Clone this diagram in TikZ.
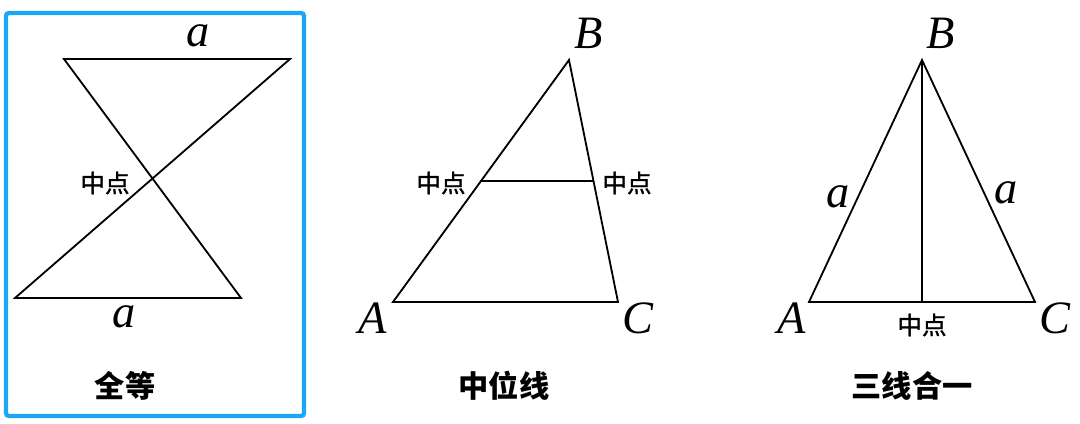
\documentclass[tikz,border=0pt]{standalone}
\usepackage{fontspec}
\setmainfont{Liberation Serif}
\newfontfamily\cjk{Noto Sans CJK SC}
\newfontfamily\cjkmid[FakeBold=1.2]{Noto Sans CJK SC}
\usetikzlibrary{positioning,calc}
\definecolor{frameblue}{RGB}{28,167,245}

\begin{document}
\begin{tikzpicture}[x=0.025cm,y=-0.025cm,line width=1.3pt,
  letter/.style={font=\fontsize{33}{33}\selectfont\itshape},
  mid/.style={font=\cjkmid\fontsize{17.5}{17.5}\selectfont},
  title/.style={font=\cjk\bfseries\fontsize{21.5}{21.5}\selectfont}]
\useasboundingbox (0,0) rectangle (1080,423);
\draw[frameblue,line width=3pt,rounded corners=2pt] (6,13) rectangle (304,416);

% quan deng
\coordinate (p1) at (64,59);
\coordinate (p2) at (290,59);
\coordinate (p3) at (15,298);
\coordinate (p4) at (241,298);
\draw (p1) -- (p2) -- (p3) -- (p4) -- cycle;
\node[letter] (at) at (198,36) {a};
\node[letter] (ab) at (124,317) {a};
\node[mid] (m0) at (105,183) {中点};
\node[title] (t1) at (125,386) {全等};

% zhong wei xian
\coordinate (A1) at (393,302);
\coordinate (B1) at (569,60);
\coordinate (C1) at (618,302);
\draw (A1) -- (B1) -- (C1) -- cycle;
\draw ($(A1)!0.5!(B1)$) coordinate (m1) -- ($(B1)!0.5!(C1)$) coordinate (m2);
\node[letter] (a1) at (373,318) {A};
\node[letter] (b1) at (589,33) {B};
\node[letter] (c1) at (638,318) {C};
\node[mid] (m1l) at (441,183) {中点};
\node[mid] (m2l) at (627,183) {中点};
\node[title] (t2) at (504,386) {中位线};

% san xian he yi
\coordinate (A2) at (809,302);
\coordinate (B2) at (922,60);
\coordinate (C2) at (1035,302);
\coordinate (D2) at (922,302);
\draw (A2) -- (B2) -- (C2) -- cycle;
\draw (B2) -- (D2);
\node[letter] (a2) at (792,318) {A};
\node[letter] (b2) at (941,33) {B};
\node[letter] (c2) at (1055,318) {C};
\node[letter] (s1) at (838,197) {a};
\node[letter] (s2) at (1006,193) {a};
\node[mid] (m3) at (922,325) {中点};
\node[title] (t3) at (912,386) {三线合一};
\end{tikzpicture}
\end{document}
